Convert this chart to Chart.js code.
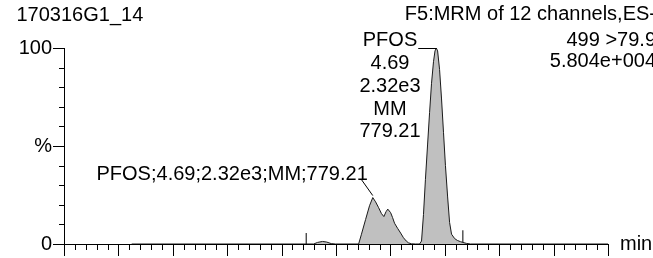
<!DOCTYPE html>
<html>
<head>
<meta charset="utf-8">
<script src="https://cdn.jsdelivr.net/npm/chart.js@4"></script>
<style>
  html, body { margin: 0; padding: 0; background: #fff; }
  #wrap { width: 653px; height: 258px; position: relative; }
</style>
</head>
<body>
<div id="wrap"><canvas id="chrom"></canvas></div>
<script>
// Trace: retention time (min) and relative intensity (%)
const times = [3.311, 4.147, 4.165, 4.188, 4.207, 4.228, 4.248, 4.354, 4.367, 4.386,
  4.404, 4.419, 4.432, 4.446, 4.459, 4.470, 4.480, 4.488, 4.501, 4.510,
  4.519, 4.533, 4.547, 4.560, 4.573, 4.583, 4.597, 4.616, 4.634, 4.643,
  4.652, 4.661, 4.671, 4.680, 4.689, 4.698, 4.705, 4.711, 4.717, 4.726,
  4.735, 4.744, 4.753, 4.763, 4.772, 4.781, 4.795, 4.808, 4.822, 4.833,
  4.850, 4.868, 5.5];
const intensity = [0, 0, 0.8, 1.3, 1.0, 0.2, 0, 0, 5, 12.5,
  19.5, 23.7, 21.5, 18.5, 15.5, 14, 16.5, 17.8, 16, 13.5,
  10.6, 8, 5.6, 3.2, 1.5, 0.6, 0.1, 0, 0, 1.5,
  15, 33, 51, 67, 82, 93, 98.5, 100, 98.5, 89,
  74, 57, 40, 24, 11, 5, 2.8, 1.8, 1.2, 0.8,
  0.3, 0, 0];

// integration start / end markers: time and marker height (%)
const markerTimes = [4.113, 4.833];
const markerHeights = [5.6, 7];

// axis ticks
const xRange = [3.0, 5.5];
const xMinorStep = 0.05;
const xMajorStep = 0.25;
const yMinorStep = 10;
const yTickValues = [0, 50, 100];
const yTickLabels = ['0', '%', '100'];

// texts
const sampleName = '170316G1_14';
const functionLines = ['F5:MRM of 12 channels,ES-', '499 >79.9', '5.804e+004'];
const mainPeakLines = ['PFOS', '4.69', '2.32e3', 'MM', '779.21'];
const smallPeakLabel = 'PFOS;4.69;2.32e3;MM;779.21';

const FONT = '20px "Liberation Sans", Arial, sans-serif';

const tracePoints = times.map((t, i) => ({ x: t, y: intensity[i] }));
const markerSets = markerTimes.map((t, i) => ({
  type: 'line',
  data: [{ x: t, y: 0 }, { x: t, y: markerHeights[i] }],
  borderColor: '#000',
  borderWidth: 1,
  pointRadius: 0,
  fill: false
}));

function apexIndex(from, to) {
  let best = -1;
  times.forEach((t, i) => {
    if (t >= from && t <= to && (best < 0 || intensity[i] > intensity[best])) best = i;
  });
  return best;
}

const msDecor = {
  id: 'msDecor',
  afterDraw(chart) {
    const { ctx, chartArea, scales: { x, y } } = chart;
    ctx.save();
    ctx.strokeStyle = '#000';
    ctx.lineWidth = 1;

    // y tick marks (pointing left)
    y.ticks.forEach(t => {
      const py = Math.round(y.getPixelForValue(t.value)) + 0.5;
      const len = t.value % 50 === 0 ? 11 : 5;
      ctx.beginPath();
      ctx.moveTo(chartArea.left - len, py);
      ctx.lineTo(chartArea.left, py);
      ctx.stroke();
    });

    // x tick marks (pointing down)
    x.ticks.forEach(t => {
      const px = Math.round(x.getPixelForValue(t.value)) + 0.5;
      const r = t.value / xMajorStep;
      const len = Math.abs(r - Math.round(r)) < 1e-6 ? 12 : 6;
      ctx.beginPath();
      ctx.moveTo(px, chartArea.bottom);
      ctx.lineTo(px, chartArea.bottom + len);
      ctx.stroke();
    });

    ctx.fillStyle = '#000';
    ctx.font = FONT;
    ctx.textBaseline = 'alphabetic';

    ctx.textAlign = 'left';
    ctx.fillText(sampleName, 16.5, 20.5);
    ctx.fillText('min', 620, 250);

    ctx.textAlign = 'right';
    const fnBase = [20, 46, 67];
    functionLines.forEach((s, i) => ctx.fillText(s, 656, fnBase[i]));

    // main peak label stack
    ctx.textAlign = 'center';
    const stackX = 390;
    const stackBase = [45.5, 68.5, 91.5, 114.5, 137];
    mainPeakLines.forEach((s, i) => ctx.fillText(s, stackX, stackBase[i]));

    const big = apexIndex(4.6, 4.9);
    const bx = x.getPixelForValue(times[big]);
    const by = y.getPixelForValue(intensity[big]);
    const pfosW = ctx.measureText(mainPeakLines[0]).width;
    ctx.beginPath();
    ctx.moveTo(stackX + pfosW / 2 + 1, Math.round(by) + 0.5);
    ctx.lineTo(bx, Math.round(by) + 0.5);
    ctx.stroke();

    // small peak label
    ctx.textAlign = 'left';
    ctx.fillText(smallPeakLabel, 96.5, 179.5);
    const small = apexIndex(4.3, 4.6);
    const sx = x.getPixelForValue(times[small]);
    const sy = y.getPixelForValue(intensity[small]);
    ctx.beginPath();
    ctx.moveTo(361, 179);
    ctx.lineTo(sx, sy - 2);
    ctx.stroke();

    ctx.restore();
  }
};

new Chart(document.getElementById('chrom'), {
  type: 'line',
  data: {
    datasets: [{
      data: tracePoints,
      borderColor: '#1a1a1a',
      borderWidth: 1,
      backgroundColor: '#c0c0c0',
      fill: 'origin',
      pointRadius: 0,
      tension: 0
    }, ...markerSets]
  },
  options: {
    responsive: true,
    maintainAspectRatio: false,
    animation: false,
    devicePixelRatio: 1,
    layout: { padding: { left: 0, top: 48, right: 45, bottom: 0 } },
    plugins: {
      legend: { display: false },
      tooltip: { enabled: false }
    },
    scales: {
      x: {
        type: 'linear',
        min: xRange[0],
        max: xRange[1],
        ticks: { display: false, stepSize: xMinorStep },
        grid: { display: false, drawTicks: false },
        border: { display: true, color: '#000', width: 1 },
        afterFit: s => { s.height = 14; s.paddingLeft = 0; s.paddingRight = 0; }
      },
      y: {
        min: 0,
        max: 100,
        ticks: {
          stepSize: yMinorStep,
          autoSkip: false,
          padding: 12,
          color: '#000',
          font: { family: '"Liberation Sans", Arial, sans-serif', size: 20 },
          callback: v => {
            const k = yTickValues.indexOf(v);
            return k >= 0 ? yTickLabels[k] : '';
          }
        },
        grid: { display: false, drawTicks: false },
        border: { display: true, color: '#000', width: 1 },
        afterFit: s => { s.width = 64; s.paddingTop = 0; s.paddingBottom = 0; }
      }
    }
  },
  plugins: [msDecor]
});
</script>
</body>
</html>
